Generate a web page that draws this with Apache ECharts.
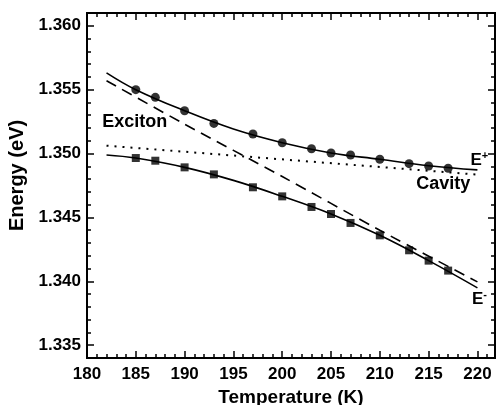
<!DOCTYPE html>
<html>
<head>
<meta charset="utf-8">
<script src="https://cdn.jsdelivr.net/npm/echarts@6/dist/echarts.min.js"></script>
<style>
  html, body { margin: 0; padding: 0; background: #fff; }
  #chart { width: 497px; height: 405px; }
</style>
</head>
<body>
<div id="chart"></div>
<script>
// measured points (temperature in K, energy in eV)
var tempPts = [185, 187, 190, 193, 197, 200, 203, 205, 207, 210, 213, 215, 217];
var upperPts = [1.3550, 1.3544, 1.35335, 1.35236, 1.35153, 1.35085, 1.35038, 1.35004, 1.34989, 1.34955, 1.34921, 1.34903, 1.34885];
var lowerPts = [1.34965, 1.34944, 1.34892, 1.34837, 1.34736, 1.34665, 1.34582, 1.34527, 1.34457, 1.3436, 1.34243, 1.34162, 1.34084];

// fitted curves
var fitTemps = [182, 185, 190, 195, 200, 205, 210, 215, 220];
var upperFit = [1.35632, 1.3550, 1.35335, 1.35192, 1.35085, 1.35005, 1.34955, 1.34905, 1.34872];
var lowerFit = [1.34989, 1.34965, 1.34892, 1.34790, 1.34665, 1.34527, 1.3436, 1.34162, 1.33949];

// uncoupled modes
var excitonTemps = [182, 190, 200, 210, 220];
var excitonVals = [1.3557, 1.3523, 1.3482, 1.3440, 1.33996];
var cavityTemps = [182, 220];
var cavityVals = [1.35062, 1.34835];

// axis ticks
var xMajor = [180, 185, 190, 195, 200, 205, 210, 215, 220];
var yMajor = [1.335, 1.340, 1.345, 1.350, 1.355, 1.360];
var xMinor = [], yMinor = [];
for (var t = 180; t <= 221; t++) xMinor.push(t);
for (var k = 1334; k <= 1361; k++) yMinor.push(k / 1000);

// curve labels
var noteText = ['{n|Exciton}', '{n|Cavity}', '{e|E}{s|+}', '{e|E}{s|-}'];
var noteX = [184.9, 216.5, 220.2, 220.2];
var noteY = [1.3525, 1.3476, 1.34948, 1.33857];

function zip(xs, ys) {
  return xs.map(function (x, i) { return [x, ys[i]]; });
}

var font = '"Liberation Sans", Arial, sans-serif';
var xMin = 180, xMax = 221.8, yMin = 1.334, yMax = 1.361;

function xAxisDef(pos, values, len, labels) {
  return {
    type: 'value', position: pos, min: xMin, max: xMax,
    gridIndex: 0,
    axisLine: { show: true, onZero: false, lineStyle: { color: '#000', width: 2 } },
    axisTick: { show: true, inside: true, length: len, customValues: values, lineStyle: { color: '#000', width: 1.5 } },
    axisLabel: labels ? {
      show: true, customValues: values, margin: 8,
      color: '#000', fontFamily: font, fontWeight: 'bold', fontSize: 17
    } : { show: false },
    splitLine: { show: false }
  };
}

function yAxisDef(pos, values, len, labels) {
  return {
    type: 'value', position: pos, min: yMin, max: yMax,
    gridIndex: 0,
    axisLine: { show: true, onZero: false, lineStyle: { color: '#000', width: 2 } },
    axisTick: { show: true, inside: true, length: len, customValues: values, lineStyle: { color: '#000', width: 1.5 } },
    axisLabel: labels ? {
      show: true, customValues: values, margin: 6,
      color: '#000', fontFamily: font, fontWeight: 'bold', fontSize: 17,
      formatter: function (v) { return v.toFixed(3); }
    } : { show: false },
    splitLine: { show: false }
  };
}

var xBottom = xAxisDef('bottom', xMajor, 7, true);
xBottom.name = 'Temperature (K)';
xBottom.nameLocation = 'middle';
xBottom.nameGap = 29;
xBottom.nameTextStyle = { color: '#000', fontFamily: font, fontWeight: 'bold', fontSize: 19 };

var yLeft = yAxisDef('left', yMajor, 7, true);
yLeft.name = 'Energy (eV)';
yLeft.nameLocation = 'middle';
yLeft.nameGap = 59;
yLeft.nameTextStyle = { color: '#000', fontFamily: font, fontWeight: 'bold', fontSize: 20, padding: [0, 0, 0, 20] };

var chart = echarts.init(document.getElementById('chart'), null, { renderer: 'canvas' });
chart.setOption({
  animation: false,
  backgroundColor: '#fff',
  grid: { left: 87, right: 2, top: 13, bottom: 47, containLabel: false, outerBoundsMode: 'none' },
  xAxis: [
    xBottom,
    xAxisDef('bottom', xMinor, 4, false),
    xAxisDef('top', xMajor, 7, false),
    xAxisDef('top', xMinor, 4, false)
  ],
  yAxis: [
    yLeft,
    yAxisDef('left', yMinor, 4, false),
    yAxisDef('right', yMajor, 7, false),
    yAxisDef('right', yMinor, 4, false)
  ],
  series: [
    {
      name: 'E+ fit', type: 'line', data: zip(fitTemps, upperFit),
      smooth: 0.4, showSymbol: false, lineStyle: { color: '#000', width: 1.6 }
    },
    {
      name: 'E- fit', type: 'line', data: zip(fitTemps, lowerFit),
      smooth: 0.4, showSymbol: false, lineStyle: { color: '#000', width: 1.6 }
    },
    {
      name: 'Exciton', type: 'line', data: zip(excitonTemps, excitonVals),
      smooth: 0.3, showSymbol: false,
      lineStyle: { color: '#000', width: 1.6, type: [11, 7] }
    },
    {
      name: 'Cavity', type: 'line', data: zip(cavityTemps, cavityVals),
      showSymbol: false,
      lineStyle: { color: '#000', width: 2, type: [2, 6] }
    },
    {
      name: 'E+', type: 'scatter', data: zip(tempPts, upperPts),
      symbol: 'circle', symbolSize: 9, itemStyle: { color: '#000' }
    },
    {
      name: 'E-', type: 'scatter', data: zip(tempPts, lowerPts),
      symbol: 'rect', symbolSize: 8, itemStyle: { color: '#000' }
    },
    {
      name: 'notes', type: 'scatter', symbolSize: 0, silent: true,
      itemStyle: { color: '#000', opacity: 1 },
      data: noteX.map(function (x, i) { return { value: [x, noteY[i]], text: noteText[i] }; }),
      label: {
        show: true, position: [0, 0], align: 'center', verticalAlign: 'middle',
        color: '#000', textBorderWidth: 0, opacity: 1,
        formatter: function (p) { return p.data.text; },
        rich: {
          n: { fontFamily: font, fontWeight: 'bold', fontSize: 18, color: '#000', textBorderWidth: 0 },
          e: { fontFamily: font, fontWeight: 'bold', fontSize: 17, color: '#000', textBorderWidth: 0 },
          s: { fontFamily: font, fontWeight: 'bold', fontSize: 11, color: '#000', textBorderWidth: 0, padding: [0, 0, 9, 0] }
        }
      }
    }
  ]
});
</script>
</body>
</html>
